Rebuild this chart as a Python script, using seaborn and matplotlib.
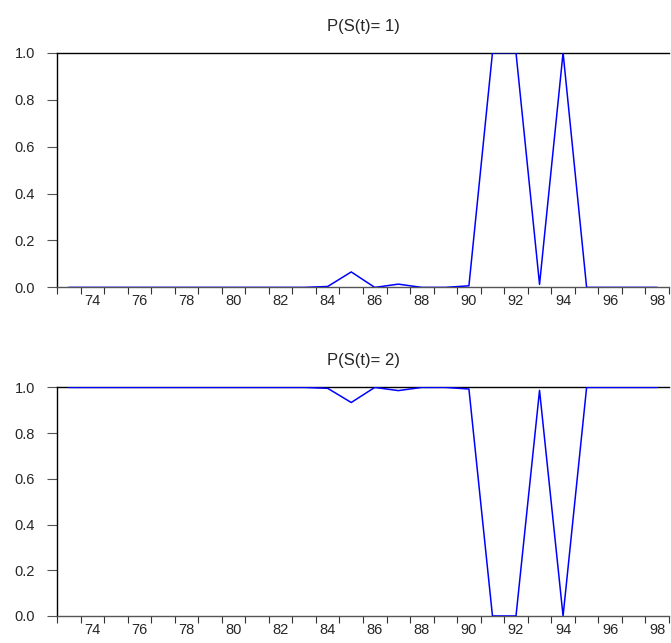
import numpy as np
import pandas as pd
import matplotlib
matplotlib.use('Agg')
import matplotlib.pyplot as plt
import seaborn as sns

# anos (1973-1998) e probabilidades filtradas do regime 1
anos = list(range(73, 99))
p1 = [0.0, 0.0, 0.0, 0.0, 0.0, 0.0, 0.0, 0.0, 0.0, 0.0, 0.0,
      0.004, 0.066, 0.0, 0.014, 0.0, 0.0, 0.007,
      1.0, 1.0, 0.013, 1.0, 0.0, 0.0, 0.0, 0.0]
p2 = [1 - v for v in p1]
titulos = ['P(S(t)= 1)', 'P(S(t)= 2)']

df = pd.DataFrame({'ano': anos, 'p1': p1, 'p2': p2})

sns.set_style('white')
plt.rcParams['font.family'] = ['Liberation Sans', 'DejaVu Sans']

fig = plt.figure(figsize=(6.71, 6.43), dpi=100)
ax1 = fig.add_axes([0.085, 0.553, 0.912, 0.365])
ax2 = fig.add_axes([0.085, 0.042, 0.912, 0.3555])

for ax, col, tit in zip([ax1, ax2], ['p1', 'p2'], titulos):
    sns.lineplot(data=df, x='ano', y=col, ax=ax, color='#0000ff', linewidth=1.1)
    ax.set_xlim(72.5, 98.5)
    ax.set_ylim(0, 1)
    ax.set_xlabel('')
    ax.set_ylabel('')
    ax.set_title(tit, fontsize=12, pad=16)
    # rotulos nos anos pares, marcas nas fronteiras entre anos
    ax.set_xticks(range(74, 99, 2))
    ax.set_xticklabels([str(a) for a in range(74, 99, 2)], fontsize=10.5)
    ax.set_xticks(np.arange(72.5, 98.6, 1), minor=True)
    ax.tick_params(axis='x', which='major', bottom=False, length=0, pad=5)
    ax.tick_params(axis='x', which='minor', bottom=True, length=5, width=0.8,
                   direction='out', color='#333333')
    ax.set_yticks([0, 0.2, 0.4, 0.6, 0.8, 1.0])
    ax.set_yticklabels(['0.0', '0.2', '0.4', '0.6', '0.8', '1.0'], fontsize=10.5)
    ax.tick_params(axis='y', left=True, length=7, width=0.8, direction='out',
                   color='#555555', pad=9)
    ax.spines['right'].set_visible(False)
    for s in ['left', 'top']:
        ax.spines[s].set_color('black')
        ax.spines[s].set_linewidth(1.0)
    ax.spines['bottom'].set_color('#555555')
    ax.spines['bottom'].set_linewidth(1.0)
    for s in ax.spines.values():
        s.set_zorder(1)

fig.savefig('out.png', dpi=100)
